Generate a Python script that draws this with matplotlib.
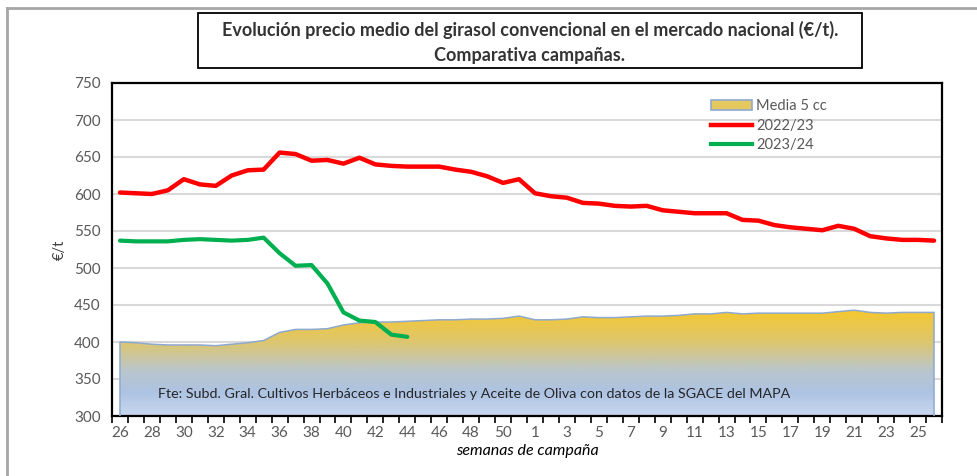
import numpy as np
import matplotlib.pyplot as plt
from matplotlib.colors import LinearSegmentedColormap
from matplotlib.patches import Rectangle
from matplotlib.lines import Line2D

plt.rcParams['font.family'] = ['Lato', 'DejaVu Sans']

# semanas de campaña (26..51, 1..26)
semanas = list(range(26, 52)) + list(range(1, 27))

media_5cc = [400, 399, 397, 396, 396, 396, 395, 397, 399, 402,
             413, 417, 417, 418, 423, 426, 427, 427, 428, 429,
             430, 430, 431, 431, 432, 435, 430, 430, 431, 434,
             433, 433, 434, 435, 435, 436, 438, 438, 440, 438,
             439, 439, 439, 439, 439, 441, 443, 440, 439, 440,
             440, 440]

c2022 = [602, 601, 600, 605, 620, 613, 611, 625, 632, 633,
         656, 654, 645, 646, 641, 649, 640, 638, 637, 637,
         637, 633, 630, 624, 615, 620, 601, 597, 595, 588,
         587, 584, 583, 584, 578, 576, 574, 574, 574, 565,
         564, 558, 555, 553, 551, 557, 553, 543, 540, 538,
         538, 537]

c2023 = [537, 536, 536, 536, 538, 539, 538, 537, 538, 541,
         520, 503, 504, 479, 440, 429, 427, 410, 407]

x = np.arange(len(semanas))

fig = plt.figure(figsize=(9.77, 4.76), dpi=100)
ax = fig.add_axes([112/977, 1-416/476, 830/977, 333/476])

# area with vertical gradient
cmap = LinearSegmentedColormap.from_list('grad', [
    (0.0, '#C9D8EF'), (0.22, '#ADC3E3'), (0.42, '#B9C6CC'),
    (0.68, '#DCC670'), (1.0, '#F8C82A')])
grad = np.linspace(0, 1, 256).reshape(-1, 1)
img = ax.imshow(grad, cmap=cmap, origin='lower', aspect='auto',
                extent=[-0.5, len(x) - 0.5, 300, 445], zorder=2)
poly = ax.fill_between(x, 300, media_5cc, facecolor='none', edgecolor='none', zorder=2)
img.set_clip_path(poly.get_paths()[0], transform=ax.transData)
ax.plot(np.r_[x[0], x, x[-1]], np.r_[300, media_5cc, 300], color='#8EA9D0', lw=1.1, zorder=3)

ax.plot(x, c2022, color='#FF0000', lw=3.2, zorder=4, solid_capstyle='round')
ax.plot(x[:len(c2023)], c2023, color='#00B050', lw=3.0, zorder=4, solid_capstyle='round')

ax.set_xlim(-0.5, len(x) - 0.5)
ax.set_ylim(300, 750)
ax.set_yticks(range(300, 751, 50))
ax.yaxis.grid(True, color='#D9D9D9', lw=1.5, zorder=0)
ax.set_axisbelow(True)
ax.tick_params(axis='y', length=0, labelsize=11, labelcolor='#595959', pad=8)

ax.set_xticks(np.arange(-0.5, len(x), 1))
ax.set_xticklabels([])
ax.set_xticks(x[::2], minor=True)
ax.set_xticklabels([str(s) for s in semanas[::2]], minor=True)
ax.tick_params(axis='x', which='major', length=5, width=1.2, color='black', direction='out')
ax.tick_params(axis='x', which='minor', length=0, labelsize=11, labelcolor='#595959', pad=7)

for s in ax.spines.values():
    s.set_color('black')
    s.set_linewidth(1.6)

ax.set_ylabel('€/t', fontsize=10.5, color='#404040', labelpad=5)
ax.set_xlabel('semanas de campaña', fontsize=11.5, style='italic', color='black', labelpad=3)

ax.text(2.4, 330, 'Fte: Subd. Gral. Cultivos Herbáceos e Industriales y Aceite de Oliva con datos de la SGACE del MAPA',
        fontsize=10.3, color='#262626', va='center', zorder=5)

# legend
handles = [Rectangle((0, 0), 1, 1, facecolor='#E6C860', edgecolor='#8EA9D0', lw=1.2),
           Line2D([], [], color='#FF0000', lw=3.2),
           Line2D([], [], color='#00B050', lw=3.0)]
ax.legend(handles, ['Media 5 cc', '2022/23', '2023/24'], loc='upper left',
          bbox_to_anchor=(0.715, 0.97), frameon=False, fontsize=10.5,
          labelcolor='#595959', handlelength=2.8, handletextpad=0.3,
          labelspacing=0.4, borderaxespad=0)

# title box
fig.patches.append(Rectangle((198/977, 1-68/476), 664/977, 55/476, transform=fig.transFigure,
                             facecolor='white', edgecolor='black', lw=1.3))
fig.text(530/977, 1-30/476, 'Evolución precio medio del girasol convencional en el mercado nacional (€/t).',
         ha='center', va='center', fontsize=13, fontweight='bold', color='#333333')
fig.text(530/977, 1-55/476, 'Comparativa campañas.',
         ha='center', va='center', fontsize=13, fontweight='bold', color='#333333')

# outer border
fig.add_artist(Line2D([7/977, 7/977], [0, 1-8/476], transform=fig.transFigure, color='#A6A6A6', lw=2))
fig.add_artist(Line2D([7/977, 1], [1-8/476, 1-8/476], transform=fig.transFigure, color='#A6A6A6', lw=2))

fig.savefig('out.png', dpi=100)
